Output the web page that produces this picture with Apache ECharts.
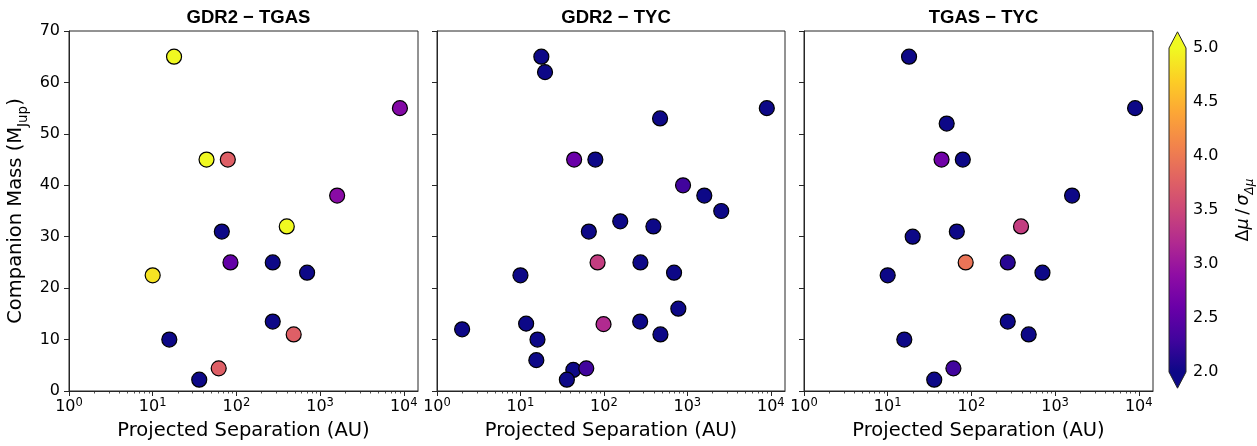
<!DOCTYPE html>
<html>
<head>
<meta charset="utf-8">
<script src="https://cdn.jsdelivr.net/npm/echarts@6/dist/echarts.min.js"></script>
<style>
  html, body { margin: 0; padding: 0; background: #fff; }
  #chart { width: 1257px; height: 446px; }
</style>
</head>
<body>
<div id="chart"></div>
<script>
// Panel titles
const panelTitles = ['GDR2 \u2212 TGAS', 'GDR2 \u2212 TYC', 'TGAS \u2212 TYC'];

// GDR2 - TGAS: projected separation (AU), companion mass (M_Jup), significance
const sepGT = [18, 9000, 44, 79, 1600, 400, 67, 85, 272, 700, 10, 272, 484, 15.8, 61.5, 36];
const massGT = [65, 55, 45, 45, 38, 32, 31, 25, 25, 23, 22.5, 13.5, 11, 10, 4.4, 2.2];
const sigGT = [5.0, 2.8, 5.0, 3.75, 2.85, 5.0, 2.0, 2.55, 2.0, 2.0, 4.85, 2.0, 3.75, 2.0, 3.75, 2.0];

// GDR2 - TYC
const sepGY = [17.8, 19.7, 8960, 471, 44, 79, 888, 1597, 2548, 157, 392, 66, 84, 274, 693, 10, 780, 2, 11.7, 99, 272, 476, 16, 15.5, 43, 61.5, 36];
const massGY = [65, 62, 55, 53, 45, 45, 40, 38, 35, 33, 32, 31, 25, 25, 23, 22.5, 16, 12, 13.1, 13, 13.5, 11, 10, 6, 4.1, 4.4, 2.2];
const sigGY = [2, 2, 2, 2, 2.6, 2, 2.3, 2, 2, 2, 2, 2, 3.4, 2, 2, 2, 2, 2, 2, 3.2, 2, 2, 2, 2, 2, 2.3, 2];

// TGAS - TYC
const sepTY = [18, 9040, 50.7, 44, 79, 1597, 392, 67, 19.9, 85.5, 272, 707, 10, 272, 484, 15.8, 61, 36];
const massTY = [65, 55, 52, 45, 45, 38, 32, 31, 30, 25, 25, 23, 22.5, 13.5, 11, 10, 4.4, 2.2];
const sigTY = [2, 2, 2, 2.65, 2, 2, 3.4, 2, 2, 3.95, 2.15, 2, 2, 2, 2, 2, 2.3, 2];

// Axis ticks
const xMajorTicks = [1, 10, 100, 1000, 10000];
const xMinorTicks = [];
for (let e = 0; e < 5; e++) {
  for (let m = 2; m <= 9; m++) xMinorTicks.push(m * Math.pow(10, e));
}
const xMin = 1, xMax = 14800;
const yMin = 0, yMax = 70, yStep = 10;
const cbMin = 2.0, cbMax = 5.0, cbStep = 0.5;

// plasma colormap
const plasma = ['#0d0887', '#41049d', '#6a00a8', '#8f0da4', '#b12a90', '#cc4778',
                '#e16462', '#f2844b', '#fca636', '#fcce25', '#f0f921'];

const zip = (a, b, c) => a.map((v, i) => [v, b[i], c[i]]);
const panelData = [zip(sepGT, massGT, sigGT), zip(sepGY, massGY, sigGY), zip(sepTY, massTY, sigTY)];

const FONT = 'DejaVu Sans';
const AXIS_COLOR = '#262626';
const TICK_FS = 16;
const LABEL_FS = 19.5;
const grids = [
  { left: 69, top: 31, width: 349, height: 360 },
  { left: 437, top: 31, width: 348, height: 360 },
  { left: 804, top: 31, width: 349, height: 360 }
];

const chart = echarts.init(document.getElementById('chart'), null, { renderer: 'canvas' });

const option = {
  backgroundColor: '#ffffff',
  animation: false,
  title: grids.map((g, i) => ({
    text: panelTitles[i],
    left: g.left + g.width / 2,
    top: 3,
    textAlign: 'center',
    textStyle: { fontFamily: 'Liberation Sans', fontWeight: 'bold', fontSize: 18.5, color: '#000' }
  })),
  grid: grids.map(g => Object.assign({ show: true, borderColor: AXIS_COLOR, borderWidth: 1, backgroundColor: 'transparent' }, g))
    .concat([{ left: 1169, top: 48, width: 17, height: 324 }]),
  xAxis: [
    ...grids.map((g, i) => ({
      type: 'log', logBase: 10, gridIndex: i, min: xMin, max: xMax,
      position: 'bottom',
      name: 'Projected Separation (AU)', nameLocation: 'middle', nameGap: 30,
      nameTextStyle: { fontFamily: FONT, fontSize: LABEL_FS, color: '#000' },
      axisLine: { show: true, lineStyle: { color: AXIS_COLOR, width: 1 } },
      axisTick: { show: true, inside: false, length: 5, customValues: xMajorTicks, lineStyle: { color: AXIS_COLOR, width: 1 } },
      splitLine: { show: false },
      axisLabel: {
        customValues: xMajorTicks,
        margin: 6,
        formatter: v => '{b|10}{s|' + Math.round(Math.log10(v)) + '}',
        rich: {
          b: { fontFamily: FONT, fontSize: TICK_FS, color: '#000', lineHeight: 20 },
          s: { fontFamily: FONT, fontSize: 11.5, color: '#000', lineHeight: 12, verticalAlign: 'top' }
        }
      }
    })),
    ...grids.map((g, i) => ({
      type: 'log', logBase: 10, gridIndex: i, min: xMin, max: xMax,
      position: 'bottom',
      axisLine: { show: false },
      axisTick: { show: true, inside: false, length: 2.5, customValues: xMinorTicks, lineStyle: { color: AXIS_COLOR, width: 0.8 } },
      axisLabel: { show: false },
      splitLine: { show: false }
    })),
    { type: 'value', gridIndex: 3, min: 0, max: 1, show: false }
  ],
  yAxis: [
    ...grids.map((g, i) => ({
      type: 'value', gridIndex: i, min: yMin, max: yMax, interval: yStep,
      name: i === 0 ? '{n|Companion Mass (M}{s|Jup}{n|)}' : '',
      nameLocation: 'middle', nameGap: 39, nameRotate: 90,
      nameTextStyle: {
        rich: {
          n: { fontFamily: FONT, fontSize: LABEL_FS, color: '#000', lineHeight: 28 },
          s: { fontFamily: FONT, fontSize: 13.5, color: '#000', lineHeight: 15, verticalAlign: 'bottom' }
        }
      },
      axisLine: { show: true, lineStyle: { color: AXIS_COLOR, width: 1 } },
      axisTick: { show: true, inside: false, length: 5, lineStyle: { color: AXIS_COLOR, width: 1 } },
      splitLine: { show: false },
      axisLabel: { show: i === 0, margin: 9, fontFamily: FONT, fontSize: TICK_FS, color: '#000' }
    })),
    {
      type: 'value', gridIndex: 3, min: cbMin, max: cbMax, interval: cbStep, position: 'right',
      name: '{u|\u0394}{i|\u03bc}{u|\u2009/\u2009}{i|\u03c3}{s|\u0394\u03bc}',
      nameLocation: 'middle', nameGap: 44, nameRotate: 90,
      nameTextStyle: {
        rich: {
          u: { fontFamily: FONT, fontSize: 17.5, color: '#000', lineHeight: 26 },
          i: { fontFamily: FONT, fontSize: 17.5, fontStyle: 'italic', color: '#000', lineHeight: 26 },
          s: { fontFamily: FONT, fontSize: 12, fontStyle: 'italic', color: '#000', lineHeight: 14, verticalAlign: 'bottom' }
        }
      },
      axisLine: { show: false },
      axisTick: { show: true, inside: false, length: 4, lineStyle: { color: AXIS_COLOR, width: 1 } },
      splitLine: { show: false },
      axisLabel: { margin: 7, fontFamily: FONT, fontSize: TICK_FS, color: '#000', formatter: v => v.toFixed(1) }
    }
  ],
  visualMap: {
    type: 'continuous', show: false, min: cbMin, max: cbMax, dimension: 2,
    seriesIndex: [0, 1, 2],
    inRange: { color: plasma }
  },
  series: [
    ...panelData.map((d, i) => ({
      type: 'scatter', xAxisIndex: i, yAxisIndex: i, data: d,
      symbol: 'circle', symbolSize: 15,
      itemStyle: { borderColor: '#000', borderWidth: 1.2, opacity: 1 },
      z: 3
    })),
    {
      // colour bar with triangular extensions at both ends
      type: 'custom', xAxisIndex: 6, yAxisIndex: 3, data: [[0, cbMin]], silent: true,
      renderItem: (params, api) => {
        const pb = api.coord([0, cbMin]);
        const pt = api.coord([1, cbMax]);
        const x0 = pb[0], x1 = pt[0], yb = pb[1], yt = pt[1];
        const ext = 0.05 * (yb - yt);
        const xm = (x0 + x1) / 2;
        const stops = plasma.slice().reverse().map((c, k) => ({ offset: k / (plasma.length - 1), color: c }));
        return {
          type: 'polygon',
          shape: { points: [[x0, yt], [xm, yt - ext], [x1, yt], [x1, yb], [xm, yb + ext], [x0, yb]] },
          style: {
            fill: new echarts.graphic.LinearGradient(0, yt, 0, yb, stops, true),
            stroke: AXIS_COLOR, lineWidth: 1
          }
        };
      }
    }
  ]
};

chart.setOption(option);
</script>
</body>
</html>
